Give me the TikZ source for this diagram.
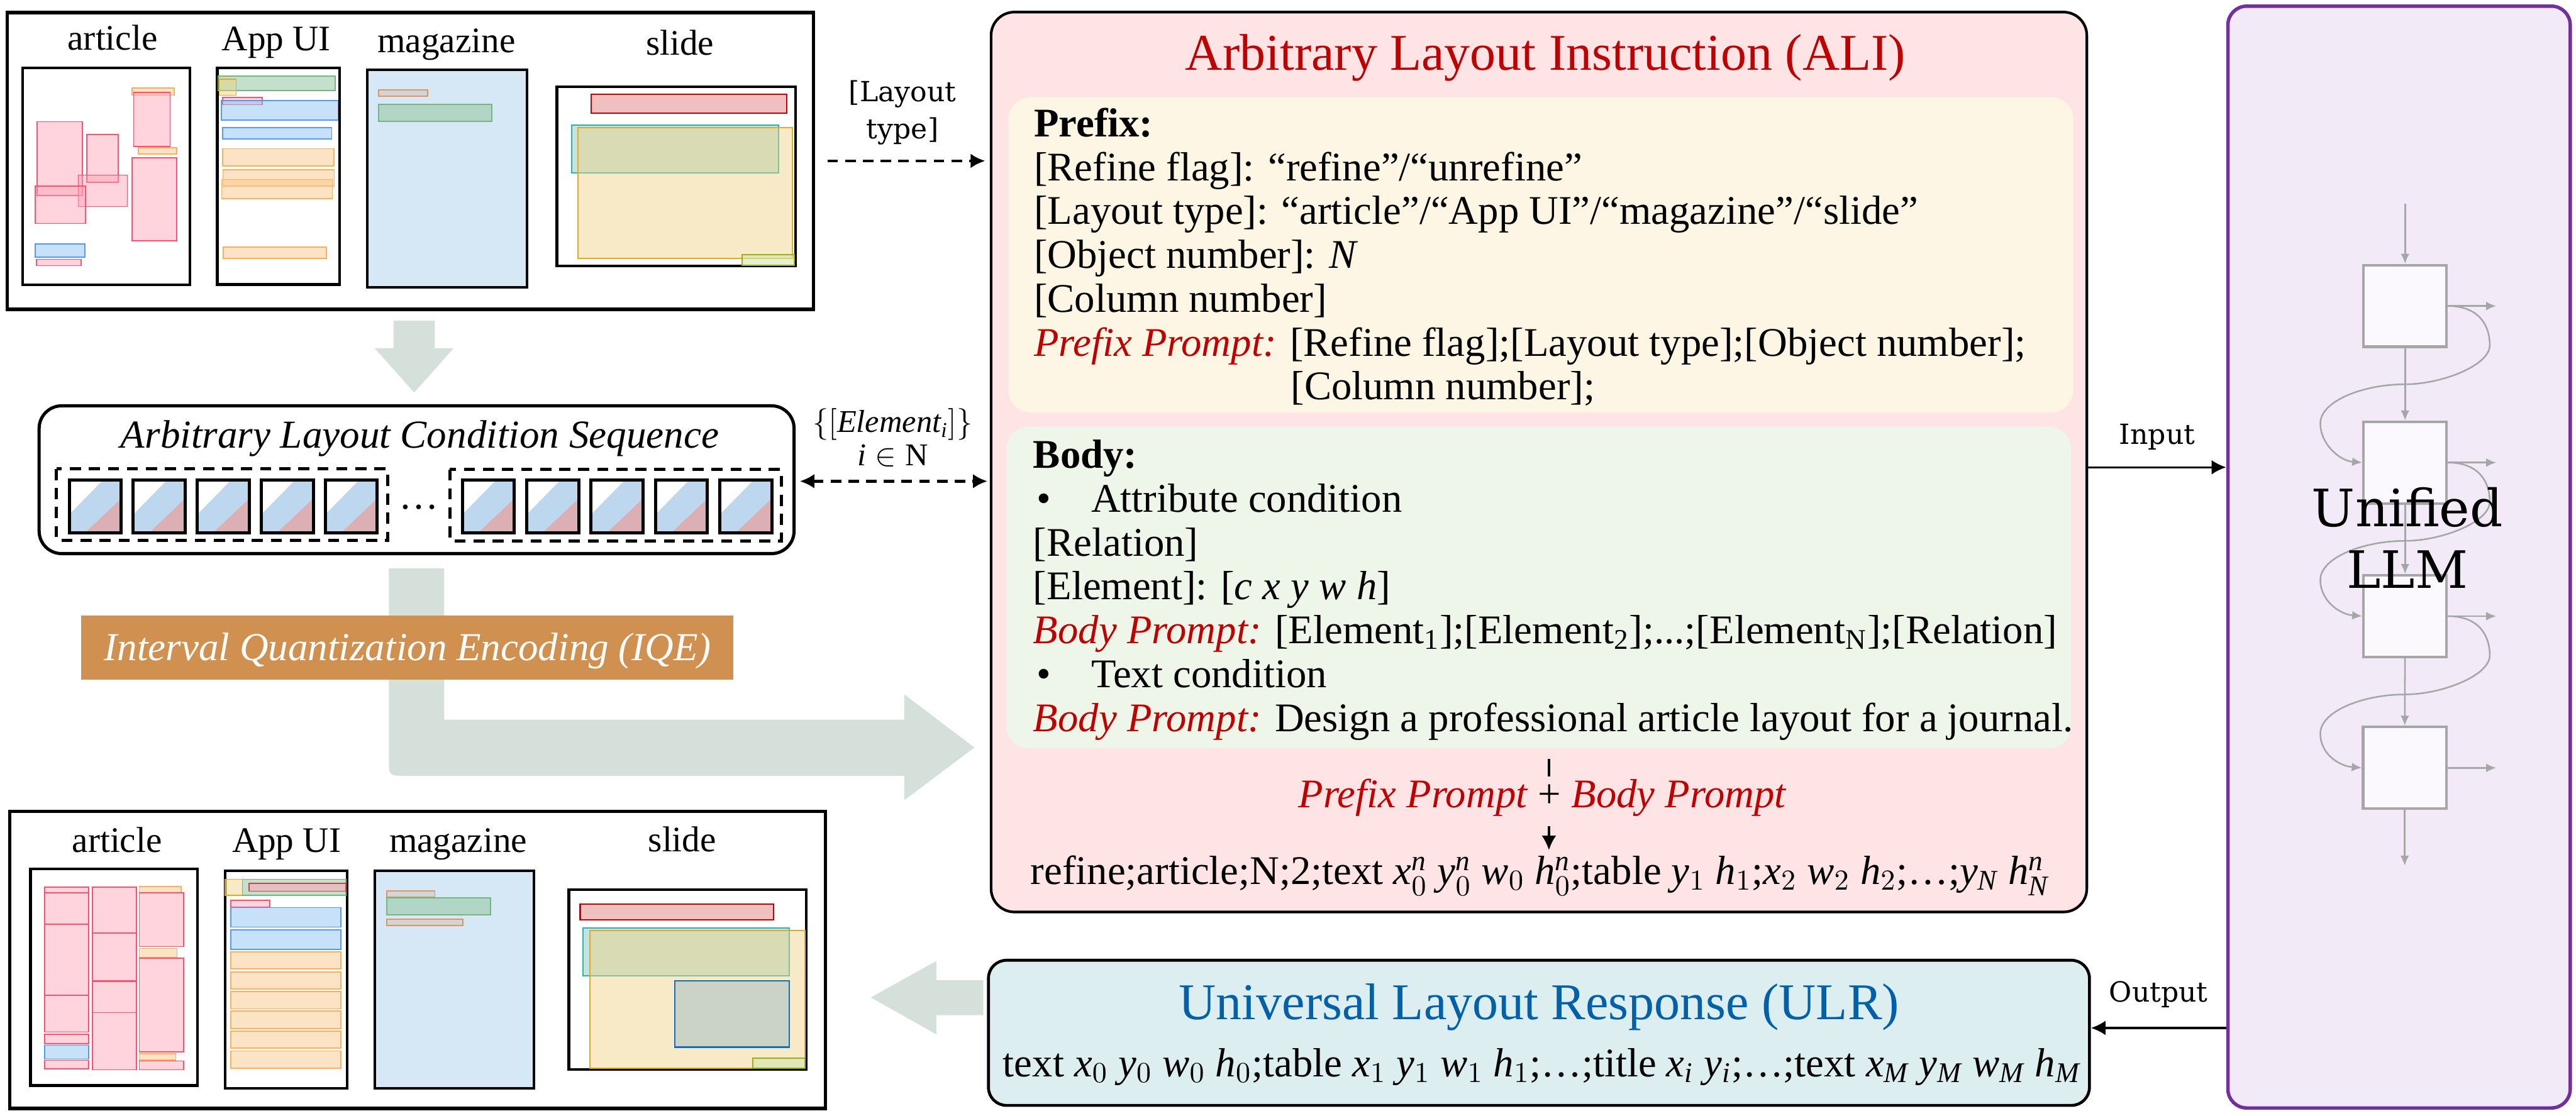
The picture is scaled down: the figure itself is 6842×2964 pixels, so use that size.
\documentclass[tikz,border=0pt]{standalone}
\usepackage{amsmath}
\usepackage{fontspec}
\setmainfont{Liberation Serif}
\newfontfamily\lblfont{DejaVu Serif}
\DeclareSymbolFont{letters}{TU}{\rmdefault}{m}{it}
\DeclareSymbolFont{operators}{TU}{\rmdefault}{m}{n}
\usepackage{xcolor}
\usetikzlibrary{arrows.meta}
\usetikzlibrary{positioning}
\usetikzlibrary{calc}
\definecolor{alipink}{RGB}{255,228,230}
\definecolor{preyellow}{RGB}{254,246,228}
\definecolor{bodygreen}{RGB}{238,245,233}
\definecolor{ulrfill}{RGB}{221,238,241}
\definecolor{llmfill}{RGB}{242,234,247}
\definecolor{llmedge}{RGB}{112,48,160}
\definecolor{titlered}{RGB}{192,0,0}
\definecolor{titleblue}{RGB}{0,96,170}
\definecolor{flowgray}{RGB}{214,224,219}
\definecolor{iqefill}{RGB}{208,145,80}
\definecolor{blockgray}{RGB}{166,166,166}
\definecolor{blockfill}{RGB}{251,249,253}
\definecolor{cellblue}{RGB}{189,215,238}
\definecolor{cellpink}{RGB}{220,175,180}
\definecolor{magblue}{RGB}{214,232,245}
\tikzset{%
  laybox/.style={draw=black,line width=1.3pt,inner sep=0pt},
  pagebox/.style={draw=black,line width=1pt,fill=white},
  pnkr/.style={draw={rgb,255:red,255;green,80;blue,110},fill={rgb,255:red,255;green,160;blue,180},fill opacity=0.45,line width=0.4pt},
  blur/.style={draw={rgb,255:red,80;green,155;blue,240},fill={rgb,255:red,130;green,190;blue,240},fill opacity=0.45,line width=0.4pt},
  orgr/.style={draw={rgb,255:red,250;green,175;blue,90},fill={rgb,255:red,250;green,200;blue,140},fill opacity=0.5,line width=0.4pt},
  grnr/.style={draw={rgb,255:red,120;green,180;blue,130},fill={rgb,255:red,150;green,200;blue,160},fill opacity=0.55,line width=0.4pt},
  tanr/.style={draw={rgb,255:red,225;green,170;blue,40},fill={rgb,255:red,240;green,210;blue,130},fill opacity=0.45,line width=0.4pt},
  redr/.style={draw={rgb,255:red,200;green,0;blue,0},fill={rgb,255:red,230;green,150;blue,150},fill opacity=0.6,line width=0.5pt},
  tealr/.style={draw={rgb,255:red,40;green,180;blue,180},fill={rgb,255:red,140;green,200;blue,190},fill opacity=0.5,line width=0.4pt},
  gryr/.style={draw={rgb,255:red,220;green,150;blue,100},fill={rgb,255:red,210;green,210;blue,210},fill opacity=0.9,line width=0.4pt},
  olvr/.style={draw={rgb,255:red,150;green,175;blue,30},fill={rgb,255:red,215;green,230;blue,170},fill opacity=0.6,line width=0.5pt},
  darkr/.style={draw={rgb,255:red,20;green,110;blue,190},fill={rgb,255:red,150;green,185;blue,200},fill opacity=0.45,line width=0.5pt},
  lbl/.style={anchor=base,inner sep=0pt,font=\fontsize{13.6}{16}\selectfont},
  txt/.style={anchor=base west,inner sep=0pt,font=\bodyfont},
  arrowblk/.style={-{Latex[length=5.5pt,width=5.5pt]},line width=0.8pt},
  dasharrow/.style={arrowblk,line width=1.1pt,dash pattern=on 4pt off 2.7pt},
  grayarr/.style={-{Latex[length=3.8pt,width=3.3pt]},draw=blockgray,line width=0.6pt},
  llmblk/.style={draw=blockgray,line width=1pt,fill=blockfill,minimum width=1.105cm,minimum height=1.085cm,inner sep=0pt},
  smalllbl/.style={font=\lblfont\fontsize{10.5}{13.9}\selectfont,align=center},
}
\newcommand\bodyfont{\fontsize{15.4}{16.6}\selectfont}
\newcommand\pr[1]{\textcolor{titlered}{\textit{#1}}}
\newcommand\bul{\makebox[0.77cm][l]{\hspace{0.05cm}•}}
\begin{document}
\begin{tikzpicture}[x=0.005cm,y=-0.005cm]
\useasboundingbox (0,0) rectangle (6842,2964);

% input layouts
\node[laybox,minimum width=10.72cm,minimum height=3.945cm] (toplay) at (1090,427.5) {};
\node[lbl] (tlA) at (299,133) {article};
\node[lbl] (tlB) at (734,135) {App UI};
\node[lbl] (tlC) at (1186,140) {magazine};
\node[lbl] (tlD) at (1806,147) {slide};
\draw[pagebox] (60,180) rectangle (505,757);
\draw[pagebox] (577,180) rectangle (902,756);
\draw[pagebox,fill=magblue] (975,186) rectangle (1400,763);
\draw[pagebox] (1479,230) rectangle (2113,707);
\draw[orgr] (351,234) rectangle (463,253);
\draw[pnkr] (355,245) rectangle (452,389);
\draw[orgr] (368,392) rectangle (469,409);
\draw[pnkr] (351,419) rectangle (469,640);
\draw[pnkr] (98,323) rectangle (219,519);
\draw[pnkr] (231,358) rectangle (314,484);
\draw[pnkr] (208,465) rectangle (338,549);
\draw[pnkr] (93,495) rectangle (227,594);
\draw[blur] (93,648) rectangle (226,683);
\draw[pnkr] (97,689) rectangle (216,706);
\draw[grnr] (579,202) rectangle (890,240);
\draw[tanr] (582,210) rectangle (627,253);
\draw[pnkr] (591,259) rectangle (696,278);
\draw[blur] (588,267) rectangle (898,319);
\draw[blur] (591,339) rectangle (881,369);
\draw[orgr] (591,395) rectangle (887,441);
\draw[orgr] (592,451) rectangle (888,495);
\draw[orgr] (589,477) rectangle (883,528);
\draw[orgr] (593,657) rectangle (867,686);
\draw[gryr] (1006,239) rectangle (1136,256);
\draw[grnr] (1006,277) rectangle (1306,322);
\draw[redr] (1570,250) rectangle (2089,301);
\draw[tealr] (1518,332) rectangle (2068,459);
\draw[tanr] (1535,339) rectangle (2105,687);
\draw[olvr] (1971,676) rectangle (2109,705);

% flow arrows
\fill[flowgray] (1045,852) -- (1155,852) -- (1155,925) -- (1205,925) -- (1100,1043) -- (995,925) -- (1045,925) -- cycle;
\fill[flowgray] (1033,1510) -- (1180,1510) -- (1180,1912) -- (2402,1912) -- (2402,1845) -- (2588,1986) -- (2402,2126) -- (2402,2061) -- (1076,2061) .. controls (1033,2061) .. (1033,2018) -- cycle;
\fill[flowgray] (2612,2604) -- (2487,2604) -- (2487,2553) -- (2313,2650) -- (2487,2748) -- (2487,2697) -- (2612,2697) -- cycle;

% condition sequence
\node[draw=black,line width=1.2pt,rounded corners=0.3cm,fill=white,minimum width=10.035cm,minimum height=1.965cm,inner sep=0pt] (cond) at (1106.5,1274.5) {};
\node[anchor=base,inner sep=0pt,font=\fontsize{15}{17}\selectfont\itshape] (condtitle) at (1115,1190) {Arbitrary Layout Condition Sequence};
\draw[line width=1.2pt,dash pattern=on 4.2pt off 3pt] (150,1246) rectangle (1030,1435);
\draw[line width=1.2pt,dash pattern=on 4.2pt off 3pt] (1195,1247) rectangle (2075,1437);
\foreach \cx in {184,354,524,694,864,1228,1399,1570,1741,1912}{
  \fill[cellblue] (\cx+90,1275) -- (\cx+138,1275) -- (\cx+138,1324) -- (\cx+41,1416) -- (\cx,1416) -- (\cx,1367) -- cycle;
  \fill[cellpink] (\cx+138,1324) -- (\cx+138,1416) -- (\cx+41,1416) -- cycle;
  \draw[line width=1.2pt] (\cx,1275) rectangle (\cx+138,1416);
}
\node[inner sep=0pt,font=\fontsize{15}{17}\selectfont] (dots) at (1113,1348) {…};
\node[fill=iqefill,minimum width=8.67cm,minimum height=0.85cm,inner sep=0pt] (iqe) at (1082,1721) {};
\node[anchor=base,inner sep=0pt,text=white,font=\fontsize{15}{17}\selectfont\itshape] (iqetext) at (1083,1754) {Interval Quantization Encoding (IQE)};

% output layouts
\node[laybox,minimum width=10.84cm,minimum height=3.95cm] (botlay) at (1109,2550) {};
\node[lbl] (blA) at (311,2265) {article};
\node[lbl] (blB) at (761,2265) {App UI};
\node[lbl] (blC) at (1217,2265) {magazine};
\node[lbl] (blD) at (1812,2263) {slide};
\draw[pagebox] (81,2308) rectangle (525,2884);
\draw[pagebox] (598,2314) rectangle (922,2891);
\draw[pagebox,fill=magblue] (995,2314) rectangle (1418,2891);
\draw[pagebox] (1511,2363) rectangle (2142,2842);
\foreach \ya/\yb in {2357/2371,2372/2455,2456/2644,2645/2742,2748/2773,2817/2840}
  \draw[pnkr] (119,\ya) rectangle (236,\yb);
\draw[blur] (119,2777) rectangle (236,2814);
\foreach \ya/\yb in {2357/2478,2479/2606,2607/2690,2690/2842}
  \draw[pnkr] (246,\ya) rectangle (362,\yb);
\draw[orgr] (370,2355) rectangle (481,2371);
\draw[pnkr] (370,2372) rectangle (488,2515);
\draw[orgr] (370,2520) rectangle (470,2544);
\draw[pnkr] (370,2546) rectangle (488,2795);
\draw[orgr] (370,2800) rectangle (467,2816);
\draw[pnkr] (370,2819) rectangle (488,2842);
\draw[tanr] (598,2336) rectangle (644,2379);
\draw[grnr] (644,2336) rectangle (919,2379);
\draw[pnkr,draw={rgb,255:red,220;green,60;blue,80}] (662,2347) rectangle (919,2368);
\draw[pnkr] (613,2392) rectangle (717,2410);
\draw[blur] (613,2411) rectangle (905,2463);
\draw[blur] (613,2470) rectangle (905,2522);
\foreach \ya/\yb in {2529/2574,2582/2627,2634/2680,2686/2733,2739/2785,2792/2838}
  \draw[orgr] (613,\ya) rectangle (905,\yb);
\draw[gryr] (1027,2367) rectangle (1155,2383);
\draw[grnr] (1027,2385) rectangle (1303,2431);
\draw[gryr] (1027,2442) rectangle (1229,2459);
\draw[redr] (1541,2402) rectangle (2055,2444);
\draw[tealr] (1549,2466) rectangle (2096,2593);
\draw[tanr] (1567,2472) rectangle (2138,2838);
\draw[darkr] (1793,2606) rectangle (2096,2782);
\draw[olvr] (1999,2811) rectangle (2138,2838);

% instruction
\node[draw=black,line width=1pt,rounded corners=0.31cm,fill=alipink,minimum width=14.565cm,minimum height=11.965cm,inner sep=0pt] (ali) at (4087.5,1227.5) {};
\node[anchor=base,inner sep=0pt,text=titlered,font=\fontsize{19.5}{22}\selectfont] (alititle) at (4105,187) {Arbitrary Layout Instruction (ALI)};
\node[fill=preyellow,rounded corners=0.29cm,minimum width=14.155cm,minimum height=4.19cm,inner sep=0pt] (prebox) at (4092.5,677) {};
\node[fill=bodygreen,rounded corners=0.29cm,minimum width=14.15cm,minimum height=4.27cm,inner sep=0pt] (bodybox) at (4087,1561) {};
\node[txt] (pfx0) at (2745,363) {\textbf{Prefix:}};
\node[txt] (pfx1) at (2745,479.5) {[Refine flag]: ``refine''/``unrefine''};
\node[txt] (pfx2) at (2745,596) {[Layout type]: ``article''/``App UI''/``magazine''/``slide''};
\node[txt] (pfx3) at (2745,712.5) {[Object number]: $N$};
\node[txt] (pfx4) at (2745,829) {[Column number]};
\node[txt] (pfx5) at (2745,945.5) {\pr{Prefix Prompt:} [Refine flag];[Layout type];[Object number];};
\node[txt] (pfx6) at (3427,1062) {[Column number];};
\node[txt] (bdy0) at (2743,1244) {\textbf{Body:}};
\node[txt] (bdy1) at (2743,1360.5) {\bul Attribute condition};
\node[txt] (bdy2) at (2743,1477) {[Relation]};
\node[txt] (bdy3) at (2743,1593.5) {[Element]: [$c\ x\ y\ w\ h$]};
\node[txt] (bdy4) at (2743,1710) {\pr{Body Prompt:} [Element\textsubscript{1}];[Element\textsubscript{2}];...;[Element\textsubscript{N}];[Relation]};
\node[txt] (bdy5) at (2743,1826.5) {\bul Text condition};
\node[txt] (bdy6) at (2743,1943) {\pr{Body Prompt:} Design a professional article layout for a journal.};
\node[anchor=base,inner sep=0pt,text height=0.4cm,text depth=0.245cm,font=\bodyfont,text=titlered] (sum) at (4097,2145) {\textit{Prefix Prompt} \textcolor{black}{+} \textit{Body Prompt}};
\node[anchor=base,inner sep=0pt,text height=0.45cm,font=\bodyfont] (seq) at (4090,2350) {refine;article;N;2;text $x_0^n\ y_0^n\ w_0\ h_0^n$;table $y_1\ h_1$;$x_2\ w_2\ h_2$;…;$y_N\ h_N^n$};
\coordinate (plus) at (4114,2015);
\draw[line width=0.8pt,shorten <=0.135cm] (bodybox.south -| plus) -- (sum.north -| plus);
\draw[arrowblk] (sum.south -| plus) -- (seq.north -| plus);

% response
\node[draw=black,line width=1.1pt,rounded corners=0.24cm,fill=ulrfill,minimum width=14.635cm,minimum height=1.93cm,inner sep=0pt] (ulr) at (4087.5,2744) {};
\node[anchor=base,inner sep=0pt,text=titleblue,font=\fontsize{19.5}{22}\selectfont] (ulrtitle) at (4088,2708) {Universal Layout Response (ULR)};
\node[anchor=base,inner sep=0pt,font=\bodyfont] (ulrseq) at (4095,2861) {text $x_0\ y_0\ w_0\ h_0$;table $x_1\ y_1\ w_1\ h_1$;…;title $x_i\ y_i$;…;text $x_M\ y_M\ w_M\ h_M$};

% model
\node[draw=llmedge,line width=1.3pt,rounded corners=0.25cm,fill=llmfill,minimum width=4.55cm,minimum height=14.65cm,inner sep=0pt] (llm) at (6372,1480) {};
\node[llmblk] (blk1) at (6388,813) {};
\node[llmblk] (blk2) at (6388,1229) {};
\node[llmblk] (blk3) at (6388,1637) {};
\node[llmblk] (blk4) at (6387,2040) {};
\coordinate (intop) at (6388,542);
\coordinate (outbot) at (6387,2300);
\coordinate (oedge) at (6630,0);
\draw[grayarr] (intop) -- (blk1);
\draw[grayarr] (blk1) -- (blk2);
\draw[grayarr] (blk2) -- (blk3);
\draw[grayarr] (blk3) -- (blk4);
\draw[grayarr] (blk4) -- (outbot);
\foreach \b in {blk1,blk2,blk3,blk4}
  \draw[grayarr] (\b.east) -- (\b.east -| oedge);
\foreach \a/\b in {blk1/blk2,blk2/blk3,blk3/blk4}
  \draw[grayarr] (\a.east) .. controls +(80,0) and +(0,-55) .. ++(111,104)
    .. controls +(0,55) and +(95,0) .. ++(-225,104)
    .. controls +(-110,0) and +(0,-60) .. ++(-225,104)
    .. controls +(0,55) and +(-60,-5) .. (\b.west);
\node[inner sep=0pt,align=center,font=\lblfont\fontsize{19.5}{23.2}\selectfont] (llmname) at (6394,1429) {Unified\\LLM};

% connectors
\draw[dasharrow,shorten <=0.16cm,shorten >=0.06cm] (toplay.east) -- node[above=0.08cm,smalllbl] (lytlbl) {[Layout\\type]} (toplay.east -| ali.west);
\draw[{Latex[length=5.5pt,width=5.5pt]}-{Latex[length=5.5pt,width=5.5pt]},line width=1.1pt,dash pattern=on 4pt off 2.7pt,shorten <=0.055cm,shorten >=0.03cm] ([yshift=-0.02cm]cond.east) -- node[above=0.055cm,align=center,font=\fontsize{12}{12.6}\selectfont] (elmlbl) {$\{[Element_i]\}$\\$i\in\mathrm{N}$} ([yshift=-0.02cm]cond.east -| ali.west);
\draw[arrowblk] ([yshift=-0.07cm]ali.east) -- node[above=0.095cm,smalllbl] (inlbl) {Input} ([yshift=-0.07cm]ali.east -| llm.west);
\draw[arrowblk] ($(llm.west |- ulr.east)+(0,-13)$) -- node[above=0.14cm,smalllbl] (outlbl) {Output} ($(ulr.east)+(0,-13)$);
\end{tikzpicture}
\end{document}
